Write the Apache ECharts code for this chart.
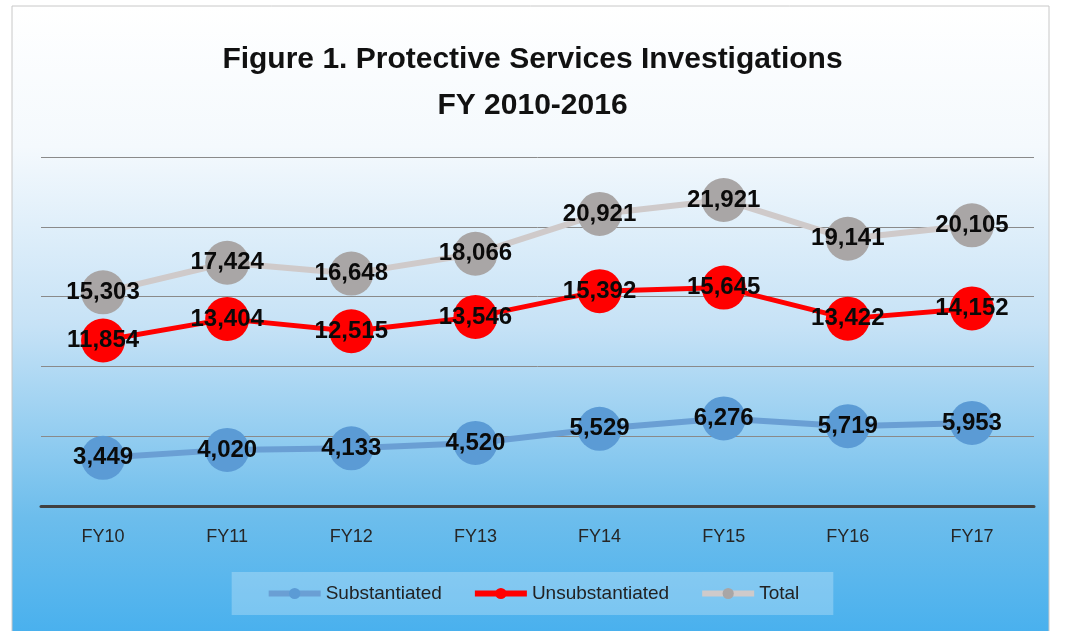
<!DOCTYPE html>
<html>
<head>
    <meta charset="utf-8">
    <title>Protective Services Investigations</title>
    <style>
        html, body { margin: 0; padding: 0; background: #fff; }
        #container { width: 1065px; height: 631px; }
    </style>
</head>
<body>
<div id="container"></div>
<script src="https://cdn.jsdelivr.net/npm/echarts@6/dist/echarts.min.js"></script>
<script>
    var years = ["FY10", "FY11", "FY12", "FY13", "FY14", "FY15", "FY16", "FY17"];
    var substantiated = [3449, 4020, 4133, 4520, 5529, 6276, 5719, 5953];
    var unsubstantiated = [11854, 13404, 12515, 13546, 15392, 15645, 13422, 14152];
    var total = [15303, 17424, 16648, 18066, 20921, 21921, 19141, 20105];

    var font = "'Liberation Sans Narrow', 'Liberation Sans', sans-serif";

    function makeSeries(name, data, lineColor, dotColor, lineWidth) {
        return {
            name: name,
            type: 'line',
            data: data,
            symbol: 'circle',
            symbolSize: 44,
            lineStyle: { color: lineColor, width: lineWidth },
            itemStyle: { color: dotColor },
            label: {
                show: true,
                position: 'inside',
                fontFamily: font,
                fontWeight: 'bold',
                fontSize: 24,
                color: '#0a0a0a',
                formatter: function (p) {
                    return p.value.toLocaleString('en-US');
                }
            },
            emphasis: { disabled: true }
        };
    }

    var myChart = echarts.init(document.getElementById("container"));

    var option = {
        animation: false,
        graphic: [{
            type: 'rect',
            z: -10,
            shape: { x: 12, y: 6, width: 1037, height: 640 },
            style: {
                stroke: '#c8c8c8',
                lineWidth: 1,
                fill: {
                    type: 'linear', x: 0, y: 0, x2: 0, y2: 1,
                    colorStops: [
                        { offset: 0, color: '#ffffff' },
                        { offset: 0.22, color: '#f4f9fd' },
                        { offset: 0.5, color: '#c6e2f6' },
                        { offset: 0.8, color: '#6cbdec' },
                        { offset: 1, color: '#45afee' }
                    ]
                }
            }
        }],
        title: {
            text: 'Figure 1. Protective Services Investigations\nFY 2010-2016',
            left: 'center',
            top: 32,
            textStyle: {
                fontFamily: font,
                fontWeight: 'bold',
                fontSize: 30,
                lineHeight: 46,
                color: '#111'
            }
        },
        grid: {
            left: 41,
            right: 31,
            top: 157,
            bottom: 125
        },
        legend: {
            bottom: 16,
            left: 'center',
            itemWidth: 52,
            itemHeight: 14,
            itemGap: 30,
            padding: [12, 34],
            backgroundColor: 'rgba(255,255,255,0.25)',
            lineStyle: { width: 6 },
            textStyle: { fontFamily: font, fontSize: 19, color: '#222' },
            data: ['Substantiated', 'Unsubstantiated', 'Total']
        },
        xAxis: {
            type: 'category',
            data: years,
            axisLine: { lineStyle: { color: '#404040', width: 3 } },
            axisTick: { show: false },
            axisLabel: {
                margin: 22,
                fontFamily: font,
                fontSize: 18,
                color: '#262626'
            }
        },
        yAxis: {
            type: 'value',
            min: 0,
            max: 25000,
            interval: 5000,
            axisLabel: { show: false },
            axisLine: { show: false },
            axisTick: { show: false },
            splitLine: { lineStyle: { color: '#8a8a8a', width: 1 } }
        },
        series: [
            makeSeries('Substantiated', substantiated, '#6a9fd4', '#5b9bd5', 6),
            makeSeries('Unsubstantiated', unsubstantiated, '#ff0000', '#ff0000', 5),
            makeSeries('Total', total, '#cfcaca', '#a9a6a6', 6)
        ]
    };

    myChart.setOption(option);
</script>
</body>
</html>
